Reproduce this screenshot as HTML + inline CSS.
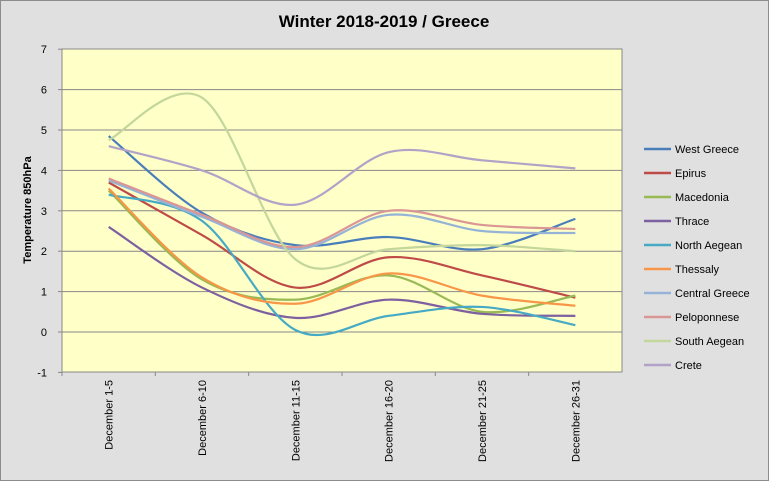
<!DOCTYPE html>
<html><head><meta charset="utf-8"><style>
body{margin:0;background:#fff}
svg{display:block;font-family:"Liberation Sans",sans-serif}
</style></head><body>
<svg id="s" width="769" height="481" xmlns="http://www.w3.org/2000/svg">
<rect x="0.5" y="0.5" width="768" height="480" fill="#e0e0e0" stroke="#8c8c8c"/>
<text x="384" y="27" text-anchor="middle" font-size="17" font-weight="bold">Winter 2018-2019 / Greece</text>
<rect x="62" y="49" width="560" height="323" fill="#ffffc8" stroke="#888"/>
<g id="grid"></g>
<text transform="translate(31,210) rotate(-90)" text-anchor="middle" font-size="11" font-weight="bold">Temperature 850hPa</text>
<g id="lines"></g>
<g id="legend" font-size="11"></g>
</svg>
<script>
var ns="http://www.w3.org/2000/svg";
function el(p,t,a,txt){var e=document.createElementNS(ns,t);for(var k in a)e.setAttribute(k,a[k]);if(txt!=null)e.textContent=txt;p.appendChild(e);return e;}
var g=document.getElementById('grid');
function Y(v){return 332-v*40.4;}
for(var v=-1;v<=7;v++){var y=Y(v);
 if(v>-1&&v<7)el(g,'line',{x1:62,x2:622,y1:y,y2:y,stroke:'#888','stroke-width':1});
 el(g,'line',{x1:58,x2:62,y1:y,y2:y,stroke:'#888'});
 el(g,'text',{x:47,y:y+4,'text-anchor':'end','font-size':11},v);}
var cats=["December 1-5","December 6-10","December 11-15","December 16-20","December 21-25","December 26-31"];
function X(i){return 108.7+i*93.33;}
for(var i=0;i<6;i++){el(g,'line',{x1:62+i*93.33,x2:62+i*93.33,y1:372,y2:376,stroke:'#888'});
 el(g,'text',{transform:'translate('+(X(i)+4)+',380) rotate(-90)','text-anchor':'end','font-size':11},cats[i]);}
var S=[
["West Greece","#4A7EBB",[4.85,2.95,2.15,2.35,2.05,2.8]],
["Epirus","#BE4B48",[3.7,2.4,1.1,1.85,1.4,0.85]],
["Macedonia","#98B954",[3.5,1.3,0.8,1.4,0.5,0.9]],
["Thrace","#7D60A0",[2.6,1.1,0.35,0.8,0.45,0.4]],
["North Aegean","#46AAC5",[3.4,2.75,0.05,0.4,0.62,0.17]],
["Thessaly","#F79646",[3.55,1.35,0.7,1.45,0.9,0.65]],
["Central Greece","#95B3D7",[3.75,2.85,2.05,2.9,2.5,2.45]],
["Peloponnese","#DA9694",[3.8,2.9,2.1,3.0,2.65,2.55]],
["South Aegean","#C3D69B",[4.75,5.8,1.8,2.05,2.15,2.0]],
["Crete","#B2A2C7",[4.6,4.0,3.15,4.45,4.25,4.05]]];
var L=document.getElementById('lines'),lg=document.getElementById('legend');
S.forEach(function(s,k){
 var p=s[2].map(function(v,i){return [X(i),Y(v)];});
 var d='M'+p[0][0]+','+p[0][1];
 for(var i=0;i<5;i++){var p0=p[Math.max(i-1,0)],p1=p[i],p2=p[i+1],p3=p[Math.min(i+2,5)];
  var c1=[p1[0]+(p2[0]-p0[0])/6,p1[1]+(p2[1]-p0[1])/6],c2=[p2[0]-(p3[0]-p1[0])/6,p2[1]-(p3[1]-p1[1])/6];
  d+=' C'+c1+' '+c2+' '+p2;}
 el(L,'path',{d:d,fill:'none',stroke:s[1],'stroke-width':2.2});
 var y=149+k*24;
 el(lg,'line',{x1:644,x2:671,y1:y,y2:y,stroke:s[1],'stroke-width':2.5});
 el(lg,'text',{x:675,y:y+4},s[0]);
});
</script>
</body></html>
